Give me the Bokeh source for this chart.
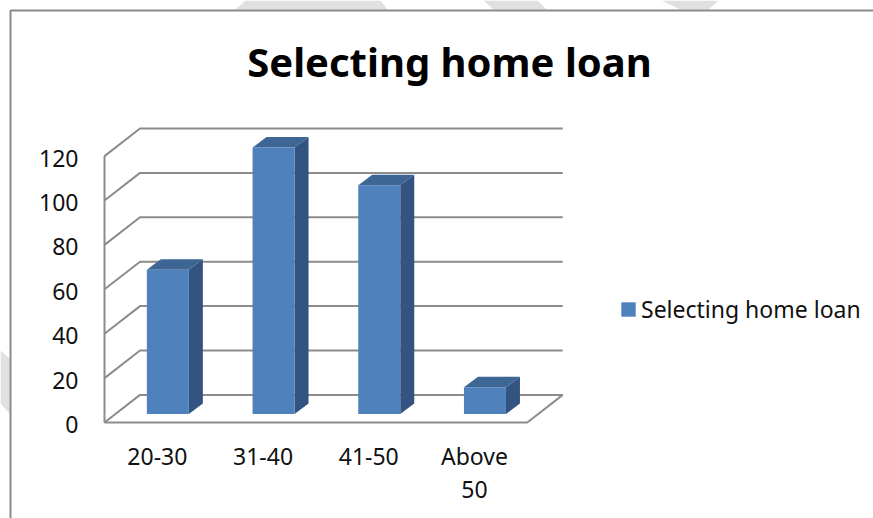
from bokeh.embed import file_html
from bokeh.resources import INLINE
from bokeh.plotting import figure
from bokeh.models import (Range1d, FixedTicker, LinearAxis, Label, Legend, LegendItem,
                          BoxAnnotation, PolyAnnotation)

# Chart data
categories = ["20-30", "31-40", "41-50", "Above\n50"]
series_name = "Selecting home loan"
values = [65, 120, 103, 12]
value_ticks = [0, 20, 40, 60, 80, 100, 120]

# Oblique projection: screen pixels per data unit on each axis
PX_PER_CAT = 105.7
PX_PER_VAL = 2.22
WALL_DX = 35.5 / PX_PER_CAT
WALL_DY = 27.6 / PX_PER_VAL
BAR_WIDTH = 42.0 / PX_PER_CAT
BAR_DX = 14.0 / PX_PER_CAT
BAR_DY = 10.5 / PX_PER_VAL
BAR_SHIFT_X = 10.5 / PX_PER_CAT
BAR_SHIFT_Y = 8.5 / PX_PER_VAL
LABEL_DROP = 2.0 / PX_PER_VAL

WIDTH, HEIGHT = 873, 518
ORIGIN_X, ORIGIN_Y = 104, 422

GRID = "#8c8c8c"
FRONT = "#4f81bd"
TOP = "#3e6695"
SIDE = "#335380"
FONT = "Noto Sans"

Y_START = (ORIGIN_Y - HEIGHT) / PX_PER_VAL
Y_END = ORIGIN_Y / PX_PER_VAL

# The frame fills the page; both axes are pinned to the data origin
p = figure(width=WIDTH, height=HEIGHT, output_backend="svg", toolbar_location=None,
           x_axis_type=None, y_axis_type=None,
           x_range=Range1d(-ORIGIN_X / PX_PER_CAT, (WIDTH - ORIGIN_X) / PX_PER_CAT),
           y_range=Range1d(Y_START, Y_END),
           min_border=0)
p.extra_y_ranges = {"tick_labels": Range1d(Y_START + LABEL_DROP, Y_END + LABEL_DROP)}
p.outline_line_color = None
p.background_fill_color = "white"
p.border_fill_color = "white"
p.grid.visible = False

# Faint page shapes that sit behind the chart area
for xs, ys in [([235, 245, 380, 387], [9, 0, 0, 9]),
               ([483, 537, 546, 493], [0, 0, 9, 9]),
               ([661, 718, 708, 680], [0, 0, 9, 9]),
               ([0, 9, 9, 0], [350, 358, 413, 403])]:
    p.add_layout(PolyAnnotation(xs=xs, ys=[HEIGHT - y for y in ys],
                                xs_units="screen", ys_units="screen",
                                fill_color="#e0e0e0", fill_alpha=1, line_alpha=0,
                                level="underlay"))
# Chart border, open past the right and bottom of the page
p.add_layout(BoxAnnotation(left=10, right=WIDTH + 40, top=HEIGHT - 10, bottom=-40,
                           left_units="screen", right_units="screen",
                           top_units="screen", bottom_units="screen",
                           fill_color="white", fill_alpha=1,
                           line_color="#8a8a8a", line_alpha=1, line_width=2,
                           level="underlay"))

# Back wall and left wall gridlines
n_cat = len(categories)
for v in value_ticks:
    p.line([0, WALL_DX, n_cat + WALL_DX], [v, v + WALL_DY, v + WALL_DY],
           line_color=GRID, line_width=2)
# Front edges of the floor and the wall
p.line([0, 0], [0, value_ticks[-1]], line_color=GRID, line_width=2)
p.line([0, n_cat, n_cat + WALL_DX], [0, 0, WALL_DY], line_color=GRID, line_width=2)

# Bars: side, top, then front faces
lefts = [i + 0.5 - BAR_WIDTH / 2 + BAR_SHIFT_X for i in range(n_cat)]
rights = [l + BAR_WIDTH for l in lefts]
base = BAR_SHIFT_Y
tops = [base + v for v in values]

p.patches([[r, r + BAR_DX, r + BAR_DX, r] for r in rights],
          [[base, base + BAR_DY, t + BAR_DY, t] for t in tops],
          fill_color=SIDE, line_color=None)
p.patches([[l, l + BAR_DX, r + BAR_DX, r] for l, r in zip(lefts, rights)],
          [[t, t + BAR_DY, t + BAR_DY, t] for t in tops],
          fill_color=TOP, line_color=None)
front = p.quad(left=lefts, right=rights, bottom=base, top=tops,
               fill_color=FRONT, line_color=None)

# Value and category axes
y_axis = LinearAxis(ticker=FixedTicker(ticks=value_ticks), axis_line_color=None,
                    y_range_name="tick_labels", fixed_location=0,
                    major_tick_line_color=None, minor_tick_line_color=None,
                    major_label_text_font=FONT, major_label_text_font_size="23px",
                    major_label_text_color="#111111", major_label_standoff=20)
p.add_layout(y_axis, "left")
x_axis = LinearAxis(ticker=FixedTicker(ticks=[i + 0.5 for i in range(n_cat)]),
                    major_label_overrides={i + 0.5: c for i, c in enumerate(categories)},
                    fixed_location=0,
                    axis_line_color=None, major_tick_line_color=None,
                    minor_tick_line_color=None,
                    major_label_text_font=FONT, major_label_text_font_size="23px",
                    major_label_text_line_height=1.05,
                    major_label_text_color="#111111", major_label_standoff=11)
p.add_layout(x_axis, "below")

p.add_layout(Label(x=449, y=HEIGHT - 61, x_units="screen", y_units="screen", text=series_name,
                   text_font=FONT, text_font_style="bold", text_font_size="40px",
                   text_color="#000000", text_align="center", text_baseline="middle"))

legend = Legend(items=[LegendItem(label=series_name, renderers=[front])],
                location=(619, HEIGHT - 325), border_line_color=None, background_fill_alpha=0,
                label_text_font=FONT, label_text_font_size="23px",
                label_text_color="#111111", glyph_width=18, glyph_height=18,
                padding=0, margin=0, label_standoff=4)
p.add_layout(legend)

open("out.html", "w").write(file_html(p, INLINE))
